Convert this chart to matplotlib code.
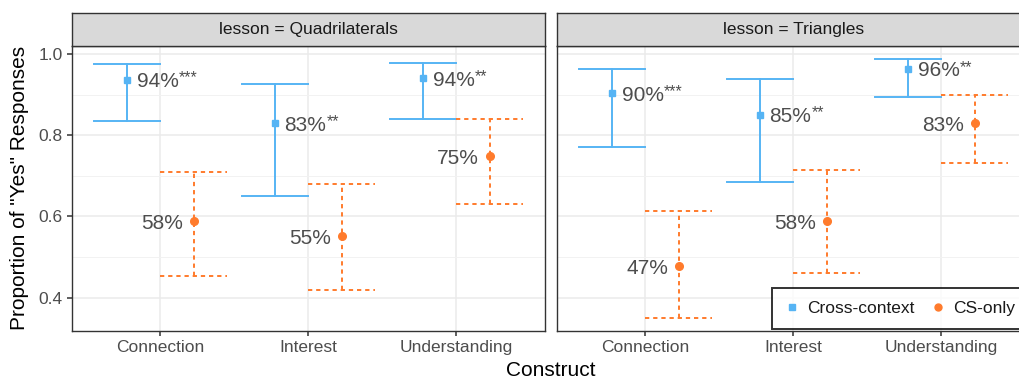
import matplotlib
matplotlib.use("Agg")
import matplotlib.pyplot as plt
from matplotlib.lines import Line2D

plt.rcParams['font.family'] = ['Liberation Sans', 'DejaVu Sans']

# data
constructs = ["Connection", "Interest", "Understanding"]
lessons = ["Quadrilaterals", "Triangles"]

quad_cross = [0.937, 0.829, 0.940]
quad_cross_lo = [0.835, 0.650, 0.841]
quad_cross_hi = [0.975, 0.926, 0.979]
quad_cs = [0.589, 0.552, 0.749]
quad_cs_lo = [0.453, 0.418, 0.631]
quad_cs_hi = [0.709, 0.680, 0.841]

tri_cross = [0.903, 0.851, 0.963]
tri_cross_lo = [0.771, 0.686, 0.894]
tri_cross_hi = [0.962, 0.938, 0.987]
tri_cs = [0.477, 0.590, 0.831]
tri_cs_lo = [0.350, 0.461, 0.731]
tri_cs_hi = [0.614, 0.714, 0.899]

quad_cross_lab = ["94%", "83%", "94%"]
quad_stars = ["***", "**", "**"]
quad_cs_lab = ["58%", "55%", "75%"]
tri_cross_lab = ["90%", "85%", "96%"]
tri_stars = ["***", "**", "**"]
tri_cs_lab = ["47%", "58%", "83%"]

blue = "#56B4F4"
orange = "#FF7B2C"
dodge = 0.225
capw = 0.225

W, H = 1019, 380
fig = plt.figure(figsize=(W / 100, H / 100), dpi=100)

panels = [
    (quad_cross, quad_cross_lo, quad_cross_hi, quad_cs, quad_cs_lo, quad_cs_hi,
     quad_cross_lab, quad_stars, quad_cs_lab),
    (tri_cross, tri_cross_lo, tri_cross_hi, tri_cs, tri_cs_lo, tri_cs_hi,
     tri_cross_lab, tri_stars, tri_cs_lab),
]
lefts = [71.7, 556.7]
pw = 473.5
bottom = 1 - 331 / H
ph = (331 - 46) / H

star_jobs = []

for i, (lesson, p) in enumerate(zip(lessons, panels)):
    cm, clo, chi, sm, slo, shi, clab, stars, slab = p
    ax = fig.add_axes([lefts[i] / W, bottom, pw / W, ph])
    xs = list(range(len(constructs)))

    for x, m, lo, hi, lab, st in zip(xs, cm, clo, chi, clab, stars):
        xc = x - dodge
        ax.plot([xc, xc], [lo, hi], color=blue, lw=1.4, zorder=3)
        ax.plot([xc - capw, xc + capw], [lo, lo], color=blue, lw=1.4, zorder=3)
        ax.plot([xc - capw, xc + capw], [hi, hi], color=blue, lw=1.4, zorder=3)
        ax.plot(xc, m, marker='s', color=blue, ms=5, zorder=4)
        t = ax.annotate(lab, (xc, m), xytext=(6.8, -1.2),
                        textcoords='offset points', ha='left', va='center',
                        fontsize=15, color='#4D4D4D')
        star_jobs.append((ax, t, st))

    for x, m, lo, hi, lab in zip(xs, sm, slo, shi, slab):
        xc = x + dodge
        ls = (0, (2.2, 2.0))
        ax.plot([xc, xc], [lo, hi], color=orange, lw=1.4, ls=ls, zorder=3)
        ax.plot([xc - capw, xc + capw], [lo, lo], color=orange, lw=1.4, ls=ls, zorder=3)
        ax.plot([xc - capw, xc + capw], [hi, hi], color=orange, lw=1.4, ls=ls, zorder=3)
        ax.plot(xc, m, marker='o', color=orange, ms=5.5, zorder=4)
        ax.annotate(lab, (xc, m), xytext=(-7.8, -1.8),
                    textcoords='offset points', ha='right', va='center',
                    fontsize=15, color='#4D4D4D')

    ax.set_xlim(-0.6, 2.6)
    ax.set_ylim(0.318, 1.0197)
    ax.set_xticks(xs)
    ax.set_xticklabels(constructs)
    ax.set_yticks([0.4, 0.6, 0.8, 1.0])
    ax.set_yticks([0.5, 0.7, 0.9], minor=True)
    ax.grid(True, which='major', color='#EBEBEB', lw=1.1, zorder=0)
    ax.grid(True, which='minor', axis='y', color='#F2F2F2', lw=0.7, zorder=0)
    ax.set_axisbelow(True)
    ax.tick_params(axis='both', which='major', length=3.5, width=1.1,
                   color='#333333', labelsize=12.5, labelcolor='#4D4D4D', pad=3)
    ax.tick_params(axis='y', which='minor', length=0)
    if i == 1:
        ax.tick_params(axis='y', which='both', left=False, labelleft=False)
    for s in ax.spines.values():
        s.set_color('#333333')
        s.set_linewidth(1.0)

    sax = fig.add_axes([lefts[i] / W, 1 - 46 / H, pw / W, (46 - 13.3) / H])
    sax.set_facecolor('#D9D9D9')
    sax.set_xticks([])
    sax.set_yticks([])
    for s in sax.spines.values():
        s.set_color('#333333')
        s.set_linewidth(1.0)
    sax.text(0.5, 0.5, "lesson = " + lesson, ha='center', va='center',
             fontsize=12.5, color='#1A1A1A', transform=sax.transAxes)

fig.text(551 / W, 1 - 370 / H, "Construct", ha='center', va='center', fontsize=15)
fig.text(20 / W, 1 - 188 / H, 'Proportion of "Yes" Responses', ha='center',
         va='center', rotation=90, fontsize=15)

handles = [
    Line2D([], [], marker='s', color=blue, ls='none', ms=5),
    Line2D([], [], marker='o', color=orange, ls='none', ms=5),
]
leg = fig.legend(handles, ["Cross-context", "CS-only"], loc='lower left',
                 bbox_to_anchor=(772 / W, 1 - 329 / H), ncol=2, frameon=True,
                 fancybox=False, edgecolor='black', fontsize=12.5,
                 handlelength=0.8, handletextpad=0.5, columnspacing=0.9,
                 borderpad=0.75, borderaxespad=0)
leg.get_frame().set_linewidth(1.4)
for t in leg.get_texts():
    t.set_color('#1A1A1A')

# significance stars as small raised text right after each label
fig.canvas.draw()
r = fig.canvas.get_renderer()
for ax, t, st in star_jobs:
    bb = t.get_window_extent(r)
    fig.text(bb.x1 / W + 0.5 / W, (bb.y1 + 1.5) / H, st, ha='left', va='top',
             fontsize=11.5, color='#4D4D4D')

fig.savefig("out.png", dpi=100)
